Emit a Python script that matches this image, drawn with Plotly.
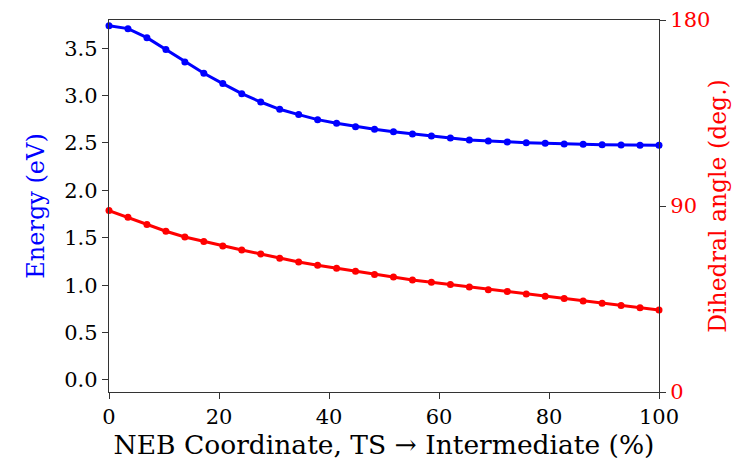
import plotly.graph_objects as go

n_points = 30
neb_coord = [i * 100 / (n_points - 1) for i in range(n_points)]

energy_ev = [3.737, 3.706, 3.611, 3.487, 3.354, 3.235, 3.126, 3.020, 2.932, 2.855,
             2.799, 2.746, 2.708, 2.672, 2.644, 2.619, 2.595, 2.574, 2.553, 2.532,
             2.521, 2.511, 2.503, 2.497, 2.489, 2.486, 2.482, 2.479, 2.476, 2.476]

dihedral_deg = [87.8, 84.5, 81.1, 77.8, 75.0, 72.8, 70.6, 68.7, 66.8, 64.7,
                62.9, 61.3, 59.9, 58.4, 56.9, 55.6, 54.2, 53.1, 52.0, 50.8,
                49.5, 48.6, 47.4, 46.3, 45.2, 44.0, 42.9, 41.9, 40.8, 39.7]

x_ticks = [0, 20, 40, 60, 80, 100]
energy_ticks = [0.0, 0.5, 1.0, 1.5, 2.0, 2.5, 3.0, 3.5]
angle_ticks = [0, 90, 180]

FONT = "DejaVu Serif"

fig = go.Figure()
fig.add_trace(go.Scatter(x=neb_coord, y=energy_ev, mode="lines+markers",
                         line=dict(color="blue", width=3), marker=dict(color="blue", size=7),
                         cliponaxis=False, showlegend=False))
fig.add_trace(go.Scatter(x=neb_coord, y=dihedral_deg, mode="lines+markers", yaxis="y2",
                         line=dict(color="red", width=3), marker=dict(color="red", size=7),
                         cliponaxis=False, showlegend=False))

axis_common = dict(showgrid=False, zeroline=False, showline=True, linecolor="#333",
                   linewidth=1.3, ticks="outside", ticklen=6, tickcolor="#333", tickwidth=1.3,
                   automargin=False)

fig.update_layout(
    width=739, height=471,
    margin=dict(l=109, r=80, t=20, b=79),
    paper_bgcolor="white", plot_bgcolor="white",
    font=dict(family=FONT, size=21, color="black"),
    xaxis=dict(range=[0, 100], tickvals=x_ticks, mirror=True,
               title=dict(text="NEB Coordinate, TS \u2192 Intermediate (%)",
                          font=dict(size=26.5), standoff=6),
               **axis_common),
    yaxis=dict(range=[-0.127, 3.797], tickvals=energy_ticks, tickformat=".1f",
               title=dict(text="Energy (eV)", font=dict(size=24, color="blue"), standoff=12),
               **axis_common),
    yaxis2=dict(range=[0, 180], tickvals=angle_ticks, overlaying="y", side="right",
                tickfont=dict(color="red"),
                title=dict(text="Dihedral angle (deg.)", font=dict(size=23.5, color="red"), standoff=0),
                **axis_common),
)

fig.write_html("out.html")
